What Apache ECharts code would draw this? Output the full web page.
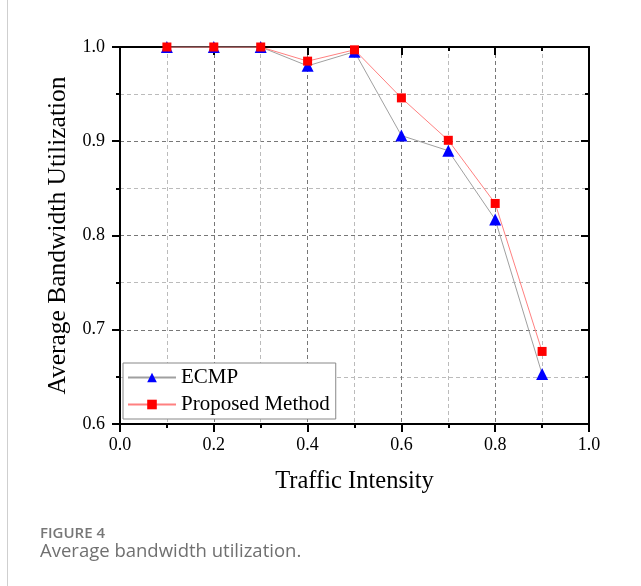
<!DOCTYPE html>
<html>
<head>
<meta charset="utf-8">
<script src="https://cdn.jsdelivr.net/npm/echarts@6/dist/echarts.min.js"></script>
<style>
html,body{margin:0;padding:0;background:#fff;}
#chart{width:641px;height:586px;}
</style>
</head>
<body>
<div id="chart"></div>
<script>
const trafficIntensity = [0.1, 0.2, 0.3, 0.4, 0.5, 0.6, 0.7, 0.8, 0.9];
const ecmpValues = [1.0, 1.0, 1.0, 0.980, 0.995, 0.906, 0.890, 0.817, 0.653];
const proposedValues = [1.0, 1.0, 1.0, 0.985, 0.997, 0.946, 0.901, 0.834, 0.677];
const seriesNames = ['ECMP', 'Proposed Method'];

const chart = echarts.init(document.getElementById('chart'), null, {renderer: 'canvas'});
const serif = '"Liberation Serif", "Times New Roman", serif';
const sans = '"Open Sans", "Noto Sans", sans-serif';
const pair = (xs, ys) => xs.map((x, i) => [x, ys[i]]);

const baseX = {
  type: 'value', min: 0, max: 1, interval: 0.2,
  axisLine: {show: true, onZero: false, lineStyle: {color: '#000', width: 2}}
};
const baseY = {
  type: 'value', min: 0.6, max: 1.0, interval: 0.1,
  axisLine: {show: true, onZero: false, lineStyle: {color: '#000', width: 2}}
};

chart.setOption({
  animation: false,
  backgroundColor: '#fff',
  grid: {left: 120, top: 47, width: 469, height: 377, containLabel: false},
  xAxis: [
    Object.assign({}, baseX, {
      position: 'bottom',
      name: 'Traffic Intensity', nameLocation: 'middle', nameGap: 45,
      nameTextStyle: {fontFamily: serif, fontSize: 24.5, color: '#000'},
      axisTick: {show: true, inside: false, length: 8, lineStyle: {color: '#000', width: 2}},
      minorTick: {show: true, splitNumber: 2, length: 4, lineStyle: {color: '#000', width: 2}},
      axisLabel: {fontFamily: serif, fontSize: 18, color: '#000', margin: 12,
        formatter: v => v.toFixed(1)},
      splitLine: {show: true, lineStyle: {color: '#777', width: 1, type: [4, 3]}},
      minorSplitLine: {show: true, lineStyle: {color: '#bbb', width: 1, type: [4, 3]}}
    }),
    Object.assign({}, baseX, {
      position: 'top',
      axisTick: {show: true, inside: true, length: 8, lineStyle: {color: '#000', width: 2}},
      minorTick: {show: true, splitNumber: 2, length: 4, lineStyle: {color: '#000', width: 2}},
      axisLabel: {show: false},
      splitLine: {show: false}
    })
  ],
  yAxis: [
    Object.assign({}, baseY, {
      position: 'left',
      name: 'Average Bandwidth Utilization', nameLocation: 'middle', nameGap: 36,
      nameTextStyle: {fontFamily: serif, fontSize: 25.5, color: '#000'},
      axisTick: {show: true, inside: false, length: 8, lineStyle: {color: '#000', width: 2}},
      minorTick: {show: true, splitNumber: 2, length: 4, lineStyle: {color: '#000', width: 2}},
      axisLabel: {fontFamily: serif, fontSize: 18, color: '#000', margin: 15,
        formatter: v => v.toFixed(1)},
      splitLine: {show: true, lineStyle: {color: '#777', width: 1, type: [4, 3]}},
      minorSplitLine: {show: true, lineStyle: {color: '#bbb', width: 1, type: [4, 3]}}
    }),
    Object.assign({}, baseY, {
      position: 'right',
      axisTick: {show: true, inside: true, length: 8, lineStyle: {color: '#000', width: 2}},
      minorTick: {show: true, splitNumber: 2, length: 4, lineStyle: {color: '#000', width: 2}},
      axisLabel: {show: false},
      splitLine: {show: false}
    })
  ],
  legend: {
    orient: 'vertical', left: 123, top: 363,
    backgroundColor: '#fff',
    borderColor: '#888', borderWidth: 1, borderRadius: 0,
    padding: [4, 6, 4, 4], itemGap: 6, itemWidth: 48, itemHeight: 12,
    textStyle: {fontFamily: serif, fontSize: 21, color: '#000'},
    data: seriesNames
  },
  series: [
    {
      name: seriesNames[0], type: 'line', xAxisIndex: 0, yAxisIndex: 0,
      data: pair(trafficIntensity, ecmpValues),
      symbol: 'triangle', symbolSize: 12,
      lineStyle: {color: '#a0a0a0', width: 1},
      itemStyle: {color: '#0000ff'},
      z: 3
    },
    {
      name: seriesNames[1], type: 'line', xAxisIndex: 0, yAxisIndex: 0,
      data: pair(trafficIntensity, proposedValues),
      symbol: 'rect', symbolSize: 9,
      lineStyle: {color: '#ff8080', width: 1},
      itemStyle: {color: '#ff0000'},
      z: 4
    }
  ],
  graphic: [
    {type: 'line', shape: {x1: 7.5, y1: 0, x2: 7.5, y2: 586}, style: {stroke: '#cfcfcf', lineWidth: 1}},
    {type: 'text', left: 40, top: 526, style: {text: 'FIGURE 4', fontFamily: sans, fontSize: 15, fontWeight: 600, fill: '#777'}},
    {type: 'text', left: 40, top: 542, style: {text: 'Average bandwidth utilization.', fontFamily: sans, fontSize: 18.5, fill: '#707070'}}
  ]
});
</script>
</body>
</html>
